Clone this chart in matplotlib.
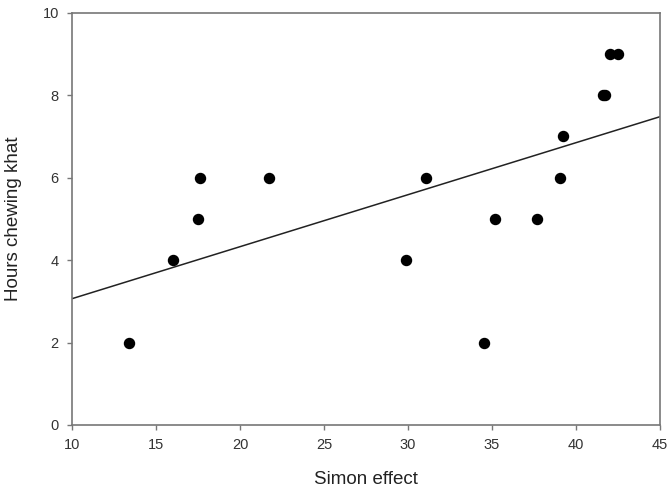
import numpy as np
import matplotlib
matplotlib.use('Agg')
import matplotlib.pyplot as plt

plt.rcParams['font.family'] = ['Liberation Sans', 'DejaVu Sans']

simon_effect = [13.4, 16.0, 17.5, 17.6, 21.7, 29.9, 31.1, 34.5, 35.2, 37.7,
                39.05, 39.2, 41.6, 41.7, 42.0, 42.5]
hours_khat = [2, 4, 5, 6, 6, 4, 6, 2, 5, 5, 6, 7, 8, 8, 9, 9]

x_ticks = [10, 15, 20, 25, 30, 35, 40, 45]
y_ticks = [0, 2, 4, 6, 8, 10]

fig = plt.figure(figsize=(6.7, 4.93), dpi=100)
ax = fig.add_axes([0.1075, 0.138, 0.8775, 0.836])

ax.scatter(simon_effect, hours_khat, s=52, color='black', zorder=3)

# least-squares line across the full x range
slope, intercept = np.polyfit(simon_effect, hours_khat, 1)
xs = np.array([x_ticks[0], x_ticks[-1]])
ax.plot(xs, intercept + slope * xs, color='#222222', lw=1.1)

ax.set_xlim(x_ticks[0], x_ticks[-1])
ax.set_ylim(y_ticks[0], y_ticks[-1])
ax.set_xticks(x_ticks)
ax.set_yticks(y_ticks)

for s in ax.spines.values():
    s.set_color('#777777')
    s.set_linewidth(1.2)
ax.tick_params(direction='out', length=3.5, width=1, color='#777777',
               labelsize=10.5, labelcolor='#333333', pad=6)

ax.set_xlabel('Simon effect', fontsize=13.5, color='#222222', va='center')
ax.set_ylabel('Hours chewing khat', fontsize=13.5, color='#222222', va='center')
ax.xaxis.set_label_coords(0.5, -0.133)
ax.yaxis.set_label_coords(-0.1, 0.5)

fig.savefig('out.png', dpi=100)
